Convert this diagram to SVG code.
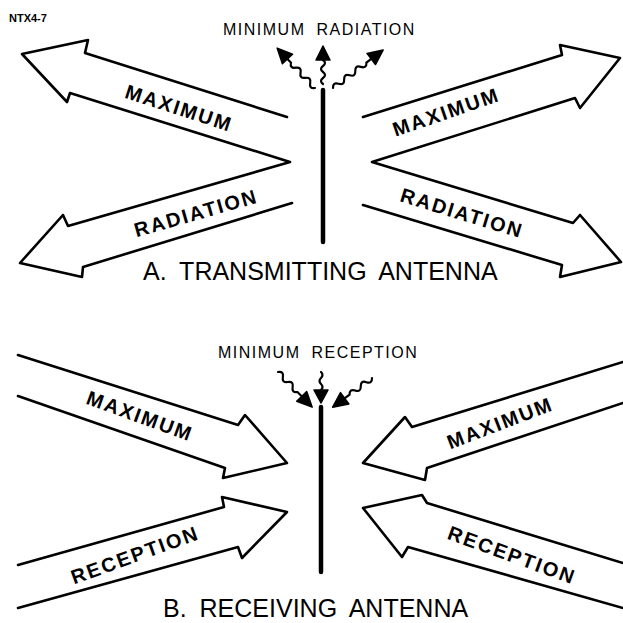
<svg xmlns="http://www.w3.org/2000/svg" width="623" height="623" viewBox="0 0 623 623">
<style>
.bg{fill:#fff}
.big{fill:none;stroke:#000;stroke-width:2.6;stroke-linejoin:round;stroke-linecap:round}
.ant{stroke:#000;stroke-width:4.5;stroke-linecap:round}
.wave{fill:none;stroke:#000;stroke-width:2.2;stroke-linecap:round}
.head{fill:#000;stroke:#000;stroke-width:1.5;stroke-linejoin:round}
.lbl{font-family:"Liberation Sans",Arial,sans-serif;font-weight:bold;font-size:20px;letter-spacing:2px;text-anchor:middle;fill:#000}
.cap{font-family:"Liberation Sans",Arial,sans-serif;font-size:16px;letter-spacing:1.5px;word-spacing:5px;fill:#000}
.title{font-family:"Liberation Sans",Arial,sans-serif;font-size:25px;word-spacing:6px;fill:#000}
.tag{font-family:"Liberation Sans",Arial,sans-serif;font-size:11px;font-weight:bold;fill:#000}
</style>
<rect class="bg" x="0" y="0" width="623" height="623"/>
<text class="tag" x="9" y="22">NTX4-7</text>

<!-- A. Transmitting -->
<g id="caption-a">
<text class="cap" x="223" y="35">MINIMUM RADIATION</text>
</g>
<g id="antenna-a"><line class="ant" x1="323" y1="90" x2="323" y2="242"/></g>
<g id="arrows-a-left">
<path class="big" d="M287,117 L85,53 L88,40 L22,54 L67,102 L70,93 L290,162 L68,226 L63,215 L20,263 L82,277 L83,267 L292,203"/>
<g transform="translate(179,108) rotate(18)"><text class="lbl" x="0" y="7">MAXIMUM</text></g>
<g transform="translate(196,213) rotate(-16)"><text class="lbl" x="0" y="7">RADIATION</text></g>
</g>
<g id="arrows-a-right">
<path class="big" d="M363,117 L562,55 L560,45 L620,58 L580,108 L575,98 L372,162 L573,223 L580,215 L621,262 L560,277 L562,265 L363,205"/>
<g transform="translate(446,112) rotate(-19)"><text class="lbl" x="0" y="7">MAXIMUM</text></g>
<g transform="translate(462,213) rotate(17)"><text class="lbl" x="0" y="7">RADIATION</text></g>
</g>
<g id="title-a"><text class="title" x="143" y="280">A. TRANSMITTING ANTENNA</text></g>

<!-- B. Receiving -->
<g id="caption-b">
<text class="cap" x="218" y="358">MINIMUM RECEPTION</text>
</g>
<g id="antenna-b"><line class="ant" x1="321" y1="407" x2="321" y2="572"/></g>
<g id="arrows-b-left">
<path class="big" d="M18,355 L238,425 L245,415 L287,463 L223,478 L225,468 L18,396"/>
<path class="big" d="M18,565 L224,507 L222,497 L287,512 L242,558 L238,547 L18,608"/>
<g transform="translate(140,416) rotate(20)"><text class="lbl" x="0" y="7">MAXIMUM</text></g>
<g transform="translate(135,555) rotate(-20)"><text class="lbl" x="0" y="7">RECEPTION</text></g>
</g>
<g id="arrows-b-right">
<path class="big" d="M623,362 L412,427 L405,417 L363,463 L425,480 L427,468 L623,403"/>
<path class="big" d="M623,563 L427,503 L422,495 L363,508 L402,557 L408,547 L623,608"/>
<g transform="translate(500,423) rotate(-21)"><text class="lbl" x="0" y="7">MAXIMUM</text></g>
<g transform="translate(512,555) rotate(20)"><text class="lbl" x="0" y="7">RECEPTION</text></g>
</g>
<g id="title-b"><text class="title" x="163" y="617">B. RECEIVING ANTENNA</text></g>

<!-- wavy arrows -->
<g id="connectors">
<g transform="translate(315,88) rotate(-133.5)">
<path class="wave" d="M0,0 q3.5,-5 7,0 t7,0 t7,0 t7,0 t7,0 L40,0"/>
<polygon class="head" points="40,-7 55,0 40,7"/>
</g>
<g transform="translate(323,84) rotate(-90)">
<path class="wave" d="M0,0 q3,-4 6,0 t6,0 t6,0 t6,0 L25,0"/>
<polygon class="head" points="24,-7 38,0 24,7"/>
</g>
<g transform="translate(333,88) rotate(-37.2)">
<path class="wave" d="M0,0 q3.5,-5 7,0 t7,0 t7,0 t7,0 t7,0 t7,0 L48,0"/>
<polygon class="head" points="48,-7 63,0 48,7"/>
</g>
<g transform="translate(278,372) rotate(45.8)">
<path class="wave" d="M0,0 q3.5,-5 7,0 t7,0 t7,0 t7,0 L35,0"/>
<polygon class="head" points="34,-7 49,0 34,7"/>
</g>
<g transform="translate(321,372) rotate(90)">
<path class="wave" d="M0,0 q3,-3 6,0 t6,0 t6,0 L19,0"/>
<polygon class="head" points="18,-7 31,0 18,7"/>
</g>
<g transform="translate(372,378) rotate(143.4)">
<path class="wave" d="M0,0 q3.5,-5 7,0 t7,0 t7,0 t7,0 L35,0"/>
<polygon class="head" points="34,-7 49,0 34,7"/>
</g>
</g>
</svg>
